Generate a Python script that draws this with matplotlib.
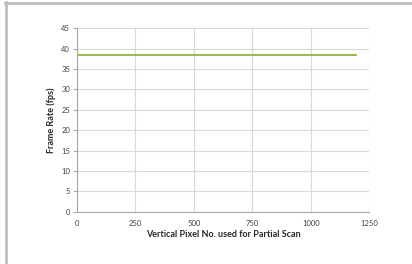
import matplotlib
matplotlib.use("Agg")
import matplotlib.pyplot as plt
from matplotlib.lines import Line2D

# data
pixels = [0, 1200]
fps = [38.5, 38.5]
xticks = [0, 250, 500, 750, 1000, 1250]
yticks = [0, 5, 10, 15, 20, 25, 30, 35, 40, 45]

plt.rcParams['font.family'] = ['Lato', 'DejaVu Sans']

fig = plt.figure(figsize=(4.12, 2.64), dpi=100)
ax = fig.add_axes([0.187, 0.198, 0.709, 0.695])

ax.plot(pixels, fps, color='#9BBB59', lw=1.5, solid_capstyle='butt', zorder=3)

ax.set_xlim(0, 1250)
ax.set_ylim(0, 45)
ax.set_xticks(xticks)
ax.set_yticks(yticks)
ax.grid(True, color='#D9D9D9', lw=0.8)
ax.set_axisbelow(True)

for s in ['top', 'right']:
    ax.spines[s].set_visible(False)
for s in ['left', 'bottom']:
    ax.spines[s].set_color('#A6A6A6')
    ax.spines[s].set_linewidth(0.8)

ax.tick_params(axis='y', length=3, color='#A6A6A6', labelsize=5.5,
               labelcolor='#404040', pad=2)
ax.tick_params(axis='x', length=0, labelsize=5.5, labelcolor='#404040', pad=6)

ax.set_xlabel('Vertical Pixel No. used for Partial Scan', fontsize=6.5,
              fontweight='bold', color='#262626', labelpad=2)
ax.set_ylabel('Frame Rate (fps)', fontsize=6.5, fontweight='bold',
              color='#262626', labelpad=4)

# grey frame at the left and top edge of the picture
fig.add_artist(Line2D([6 / 412, 6 / 412], [0, 1 - 2 / 264], color='#BFBFBF',
                      lw=2, transform=fig.transFigure))
fig.add_artist(Line2D([5 / 412, 1], [1 - 3 / 264, 1 - 3 / 264], color='#BFBFBF',
                      lw=2, transform=fig.transFigure))

fig.savefig('out.png', dpi=100)
